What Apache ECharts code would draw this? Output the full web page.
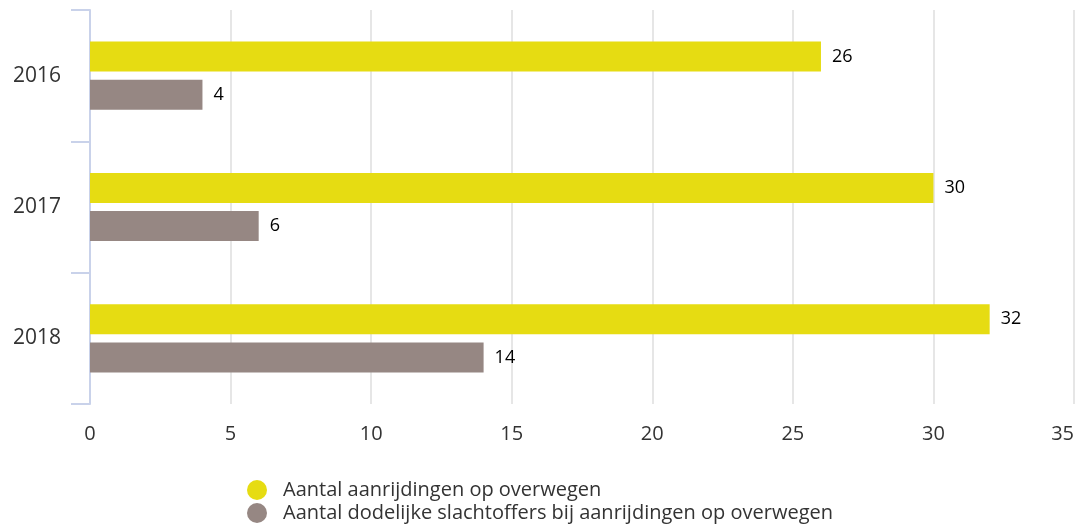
<!DOCTYPE html>
<html>
<head>
<meta charset="utf-8">
<script src="https://cdn.jsdelivr.net/npm/echarts@6/dist/echarts.min.js"></script>
<style>
  html, body { margin: 0; padding: 0; background: #fff; }
  #chart { width: 1077px; height: 526px; }
</style>
</head>
<body>
<div id="chart"></div>
<script>
const years = ['2016', '2017', '2018']
const aanrijdingen = [26, 30, 32]
const dodelijk = [4, 6, 14]
const seriesNames = [
  'Aantal aanrijdingen op overwegen',
  'Aantal dodelijke slachtoffers bij aanrijdingen op overwegen'
]

const chart = echarts.init(document.getElementById('chart'))

const labelStyle = {
  show: true,
  position: 'right',
  distance: 11,
  color: '#000',
  fontSize: 18,
  fontFamily: 'Open Sans'
}

chart.setOption({
  animation: false,
  textStyle: { fontFamily: 'Open Sans' },
  grid: { left: 90, right: 3, top: 10, bottom: 122, outerBoundsMode: 'none', containLabel: false },
  legend: {
    orient: 'vertical',
    left: 247,
    top: 480,
    padding: 0,
    itemGap: 3,
    itemWidth: 20,
    itemHeight: 20,
    icon: 'circle',
    textStyle: { fontSize: 20, lineHeight: 20, color: '#333', fontFamily: 'Open Sans', padding: [0, 0, 0, 11] },
    data: seriesNames
  },
  xAxis: {
    type: 'value',
    min: 0,
    max: 35,
    interval: 5,
    axisLine: { show: false },
    axisTick: { show: false },
    splitLine: { lineStyle: { color: '#e6e6e6', width: 2 } },
    axisLabel: { fontSize: 20, color: '#333', margin: 20, alignMaxLabel: 'right' }
  },
  yAxis: {
    type: 'category',
    inverse: true,
    data: years,
    axisLine: { show: true, lineStyle: { color: '#c9d2ea', width: 2 } },
    axisTick: { show: true, length: 19, lineStyle: { color: '#c9d2ea', width: 2 } },
    axisLabel: { fontSize: 21, color: '#333', margin: 29, padding: [5, 0, 0, 0] }
  },
  series: [
    {
      name: seriesNames[0],
      type: 'bar',
      data: aanrijdingen,
      barWidth: 30,
      barGap: '27%',
      itemStyle: { color: '#e6dc12' },
      label: labelStyle
    },
    {
      name: seriesNames[1],
      type: 'bar',
      data: dodelijk,
      barWidth: 30,
      itemStyle: { color: '#968783' },
      label: labelStyle
    }
  ]
})
</script>
</body>
</html>
